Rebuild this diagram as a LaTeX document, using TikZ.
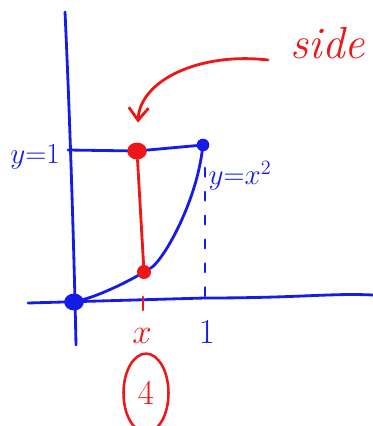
\documentclass[tikz,border=0pt]{standalone}
\usepackage{amsmath}
\usepackage{xcolor}
\usepackage{tikz}
\usetikzlibrary{positioning,arrows.meta,shapes.geometric}
\definecolor{penBlue}{RGB}{22,28,232}
\definecolor{penRed}{RGB}{238,22,22}

\begin{document}
\begin{tikzpicture}[
    x=0.025cm, y=-0.025cm,
    pen/.style={line width=2pt, line cap=round, line join=round},
    dot/.style={circle, fill, inner sep=0pt, minimum size=#1},
    lbl/.style={inner sep=1pt, font=\fontsize{22}{24}\selectfont},
  ]
  \useasboundingbox (0,0) rectangle (373,426);

  % axes
  \coordinate (ytop) at (65,12);
  \coordinate (ybot) at (76,345);
  \coordinate (xleft) at (28,303);
  \coordinate (xright) at (373,295);
  \draw[pen, penBlue] (ytop) .. controls (70,120) and (74,250) .. (ybot);
  \draw[pen, penBlue] (xleft) -- (205,298) .. controls (300,298) and (330,293) .. (xright);

  % points
  \node[dot=14pt, penBlue, ellipse, minimum height=12pt] (O) at (74,302) {};
  \node[dot=9pt, penBlue] (C) at (203,145) {};
  \node[dot=14pt, penRed, ellipse, minimum height=12pt] (T) at (137,151) {};
  \node[dot=10pt, penRed] (B) at (144,272) {};
  \coordinate (yone) at (68,150);
  \coordinate (xone) at (205,296);

  % y=1 line and curve y=x^2
  \draw[pen, penBlue] (yone) -- (T) -- (C);
  \draw[pen, penBlue] (O) .. controls (100,295) and (125,283) .. (B)
    .. controls (163,261) and (195,205) .. (C);
  \draw[pen, penBlue, dash pattern=on 6pt off 11pt] (205,168) -- (xone);

  % red side
  \draw[pen, penRed] (T) -- (B);
  \draw[pen, penRed] (143,297) -- (143,310);

  % labels
  \node[lbl, penBlue] (ylab) at (35,157) {$y{=}1$};
  \node[lbl, penBlue] (curvelab) at (240,176) {$y{=}x^2$};
  \node[lbl, penBlue, font=\fontsize{26}{28}\selectfont] (onelab) at (207,332) {$1$};
  \node[lbl, penRed, font=\fontsize{28}{30}\selectfont] (xlab) at (142,336) {$x$};
  \node[lbl, penRed, draw, ellipse, line width=1.8pt, minimum width=32pt, minimum height=56pt,
    font=\fontsize{30}{32}\selectfont] (num) at (146,393) {$4$};
  \node[penRed, inner sep=1pt, font=\fontsize{32}{34}\selectfont\itshape] (side) at (328,43) {side};

  % arrow to the side
  \coordinate (tail) at (268,60);
  \draw[pen, penRed, -{Straight Barb[length=9pt, width=14pt]}, shorten >=14pt]
    (tail) .. controls (200,52) and (140,80) .. (T.north);
\end{tikzpicture}
\end{document}
